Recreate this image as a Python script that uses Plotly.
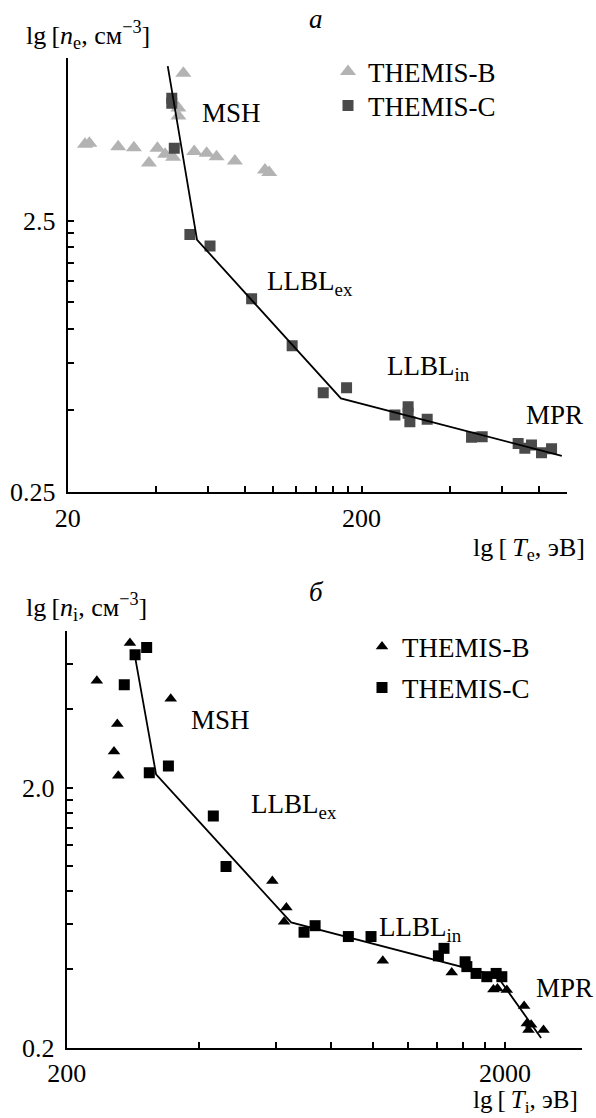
import math
import plotly.graph_objects as go

# ---------------- Panel "а": electrons ----------------
te_b = [49.5, 47.6, 47.6, 22.9, 23.7, 29.7, 33.6, 37.8, 40.4, 42.9, 45.7, 53.9, 59.4, 64.2, 74.1, 93.8, 97.0]
ne_b = [8.78, 6.54, 6.11, 4.80, 4.84, 4.70, 4.66, 4.09, 4.64, 4.41, 4.30, 4.51, 4.45, 4.32, 4.16, 3.86, 3.78]
te_c = [45.2, 45.2, 46.1, 52.1, 61.0, 84.5, 116.1, 148.1, 177.8, 259.7, 288.0, 288.0, 292.0, 334.4,
        473.4, 514.5, 682, 718.6, 757, 819, 886]
ne_c = [7.10, 6.81, 4.64, 2.23, 2.02, 1.29, 0.866, 0.580, 0.605, 0.480, 0.515, 0.487, 0.453, 0.463,
        0.397, 0.399, 0.377, 0.362, 0.372, 0.348, 0.360]
te_fit = [43.8, 55.1, 170.1, 960]
ne_fit = [9.34, 2.13, 0.553, 0.339]

# ---------------- Panel "б": ions ----------------
ti_b = [278.8, 234.3, 345.4, 260.9, 256.4, 262.2, 589, 634, 626.4, 1052, 1511, 1881, 1921, 2018,
        2210, 2242, 2293, 2261, 2447]
ni_b = [7.19, 5.15, 4.39, 3.51, 2.75, 2.22, 0.875, 0.692, 0.610, 0.432, 0.389, 0.335, 0.338, 0.333,
        0.289, 0.248, 0.245, 0.234, 0.234]
ti_c = [304.4, 286.4, 270.6, 341.2, 308.6, 432, 461.8, 695.7, 737.3, 878, 989, 1409, 1451, 1621,
        1636, 1717, 1817, 1908, 1966]
ni_c = [6.91, 6.48, 4.97, 2.42, 2.28, 1.557, 0.994, 0.556, 0.589, 0.535, 0.535, 0.451, 0.482, 0.428,
        0.410, 0.386, 0.375, 0.386, 0.375]
ti_fit = [285.6, 319.8, 650, 1918, 2416]
ni_fit = [6.53, 2.25, 0.606, 0.377, 0.218]

# ---------------- ticks ----------------
xa_ticks = [20, 40, 60, 80, 100, 120, 140, 160, 180, 200, 400, 600, 800, 1000]
xa_labels = ["20", "", "", "", "", "", "", "", "", "200", "", "", "", ""]
ya_ticks = [0.25, 0.5, 0.75, 1.0, 1.25, 1.5, 1.75, 2.0, 2.25, 2.5]
ya_labels = ["0.25", "", "", "", "", "", "", "", "", "2.5"]
xb_ticks = [200, 400, 600, 800, 1000, 1200, 1400, 1600, 1800, 2000]
xb_labels = ["200", "", "", "", "", "", "", "", "", "2000"]
yb_ticks = [0.2, 0.4, 0.6, 0.8, 1.0, 1.2, 1.4, 1.6, 1.8, 2.0, 4.0, 6.0, 8.0]
yb_labels = ["0.2", "", "", "", "", "", "", "", "", "2.0", "", "", ""]

W, H = 596, 1118
FONT = "Liberation Serif, Times New Roman, serif"
LIGHT = "#b3b3b3"
DARK = "#4a4a4a"


def px(x):
    return x / W


def py(y):
    return 1 - y / H


fig = go.Figure()

fig.add_trace(go.Scatter(x=te_b, y=ne_b, mode="markers", name="THEMIS-B",
                         marker=dict(symbol="triangle-up", size=14, color=LIGHT),
                         xaxis="x", yaxis="y", legend="legend"))
fig.add_trace(go.Scatter(x=te_c, y=ne_c, mode="markers", name="THEMIS-C",
                         marker=dict(symbol="square", size=11, color=DARK),
                         xaxis="x", yaxis="y", legend="legend2"))
fig.add_trace(go.Scatter(x=te_fit, y=ne_fit, mode="lines", showlegend=False,
                         line=dict(color="black", width=1.8), xaxis="x", yaxis="y"))

fig.add_trace(go.Scatter(x=ti_b, y=ni_b, mode="markers", name="THEMIS-B",
                         marker=dict(symbol="triangle-up", size=11, color="black"),
                         xaxis="x2", yaxis="y2", legend="legend3"))
fig.add_trace(go.Scatter(x=ti_c, y=ni_c, mode="markers", name="THEMIS-C",
                         marker=dict(symbol="square", size=11, color="black"),
                         xaxis="x2", yaxis="y2", legend="legend4"))
fig.add_trace(go.Scatter(x=ti_fit, y=ni_fit, mode="lines", showlegend=False,
                         line=dict(color="black", width=1.8), xaxis="x2", yaxis="y2"))

axis_common = dict(type="log", showgrid=False, zeroline=False, showline=True,
                   linecolor="black", linewidth=2, ticks="inside", ticklen=6,
                   tickwidth=1.8, tickcolor="black", tickmode="array",
                   tickfont=dict(family=FONT, size=26, color="black"),
                   ticklabelstandoff=5, automargin=False)


def leg(x, y):
    return dict(x=px(x), y=py(y), xanchor="left", yanchor="middle",
                font=dict(family=FONT, size=27, color="black"),
                bgcolor="rgba(0,0,0,0)", itemwidth=30, borderwidth=0)


fig.update_layout(
    width=W, height=H,
    margin=dict(l=0, r=0, t=0, b=0, autoexpand=False),
    paper_bgcolor="white", plot_bgcolor="white",
    font=dict(family=FONT, size=26, color="black"),
    xaxis=dict(axis_common, domain=[px(67.7), px(567)], anchor="y",
               range=[math.log10(20), math.log10(1000)],
               tickvals=xa_ticks, ticktext=xa_labels, ticklabelstandoff=2),
    yaxis=dict(axis_common, domain=[py(491.7), py(58)], anchor="x",
               range=[math.log10(0.25), math.log10(10)],
               tickvals=ya_ticks, ticktext=ya_labels),
    xaxis2=dict(axis_common, domain=[px(66.7), px(582.3)], anchor="y2",
                range=[math.log10(200), math.log10(3000)],
                tickvals=xb_ticks, ticktext=xb_labels, ticklabelstandoff=1),
    yaxis2=dict(axis_common, domain=[py(1047.7), py(631)], anchor="x2",
                range=[math.log10(0.2), math.log10(8)],
                tickvals=yb_ticks, ticktext=yb_labels),
    legend=leg(328, 72),
    legend2=leg(328, 106),
    legend3=leg(362, 647),
    legend4=leg(362, 688),
    showlegend=True,
)


def ann(x, y, text, xanchor="center", yanchor="middle", size=27, italic=False):
    fig.add_annotation(x=px(x), y=py(y), xref="paper", yref="paper", text=text,
                       showarrow=False, xanchor=xanchor, yanchor=yanchor,
                       font=dict(family=FONT, size=size, color="black",
                                 style="italic" if italic else "normal"))


# panel а labels
ann(316, 19, "а", size=27, italic=True)
ann(24, 35, "lg\u2009[<i>n</i><sub>e</sub>, см<sup>−3</sup>]", xanchor="left", size=26)
ann(587, 549, "lg\u2009[\u2009<i>T</i><sub>e</sub>, эВ]", xanchor="right", size=26)
ann(231, 113, "MSH")
ann(265, 283, "LLBL<sub>ex</sub>", xanchor="left")
ann(385, 368, "LLBL<sub>in</sub>", xanchor="left")
ann(554, 415, "MPR")

# panel б labels
ann(316, 592, "б", size=27, italic=True)
ann(24, 607, "lg\u2009[<i>n</i><sub>i</sub>, см<sup>−3</sup>]", xanchor="left", size=26)
ann(580, 1119, "lg\u2009[\u2009<i>T</i><sub>i</sub>, эВ]", xanchor="right", yanchor="bottom", size=25)
ann(220, 720, "MSH")
ann(249, 806, "LLBL<sub>ex</sub>", xanchor="left")
ann(377, 929, "LLBL<sub>in</sub>", xanchor="left")
ann(564, 988, "MPR")

fig.write_html("out.html")
